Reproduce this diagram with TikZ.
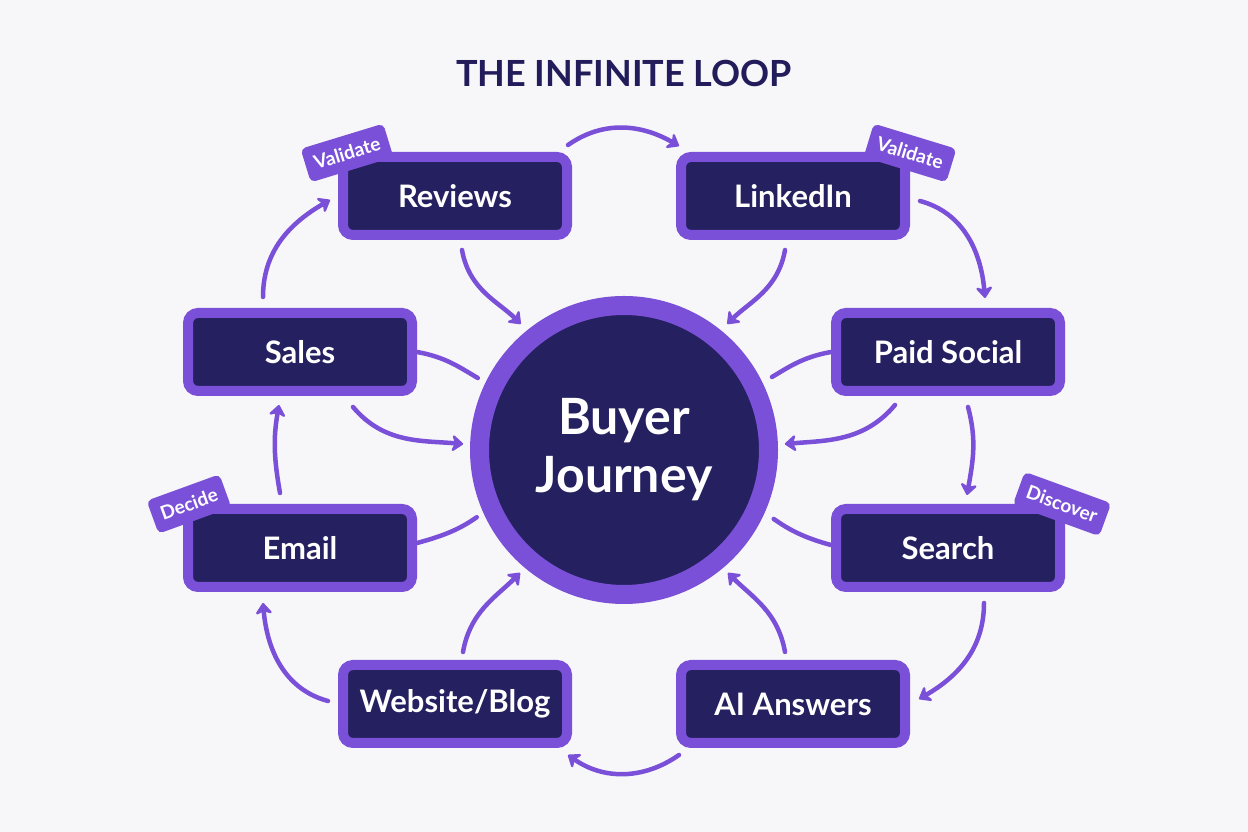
\documentclass[tikz,border=0pt]{standalone}
\usepackage{fontspec}
\setmainfont{Lato}
\usepackage{tikz}
\usetikzlibrary{arrows.meta,calc}
\definecolor{loopbg}{HTML}{F7F6F9}
\definecolor{loopviolet}{HTML}{7A50D9}
\definecolor{loopnavy}{HTML}{25205F}
\definecolor{looptitle}{HTML}{221C5A}
\tikzset{
    %Define standard arrow tip
    >={Stealth[length=13pt,width=20pt,inset=4pt,round]},
    %Define style for boxes
    station/.style={
           rectangle,
           rounded corners=10pt,
           draw=loopviolet, line width=10pt,
           fill=loopnavy,
           minimum width=224pt,
           minimum height=78pt,
           text=white,
           font=\fontsize{31}{36}\selectfont\bfseries,
           text centered},
    hub/.style={
           circle,
           draw=loopviolet, line width=19pt,
           fill=loopnavy,
           minimum size=289pt,
           text=white,
           align=center,
           font=\fontsize{50}{58}\selectfont\bfseries},
    tagbox/.style={
           rectangle,
           rounded corners=5pt,
           fill=loopviolet,
           text=white,
           minimum height=35pt,
           inner xsep=9pt,
           font=\fontsize{19}{22}\selectfont\bfseries},
    % Define arrow style
    flow/.style={
           ->,
           draw=loopviolet,
           line width=4.5pt,
           line cap=round},
    spoke/.style={
           draw=loopviolet,
           line width=4.5pt,
           line cap=round}
}
\begin{document}
\begin{tikzpicture}[x=1pt,y=1pt]
\fill[loopbg] (0,0) rectangle (1248,832);
\useasboundingbox (0,0) rectangle (1248,832);
\node[text=looptitle, font=\fontsize{36}{40}\selectfont\bfseries] (title) at (624,759) {THE INFINITE LOOP};
 %nodes
\node[hub] (hub) at (624,382) {Buyer\\Journey};
\node[station] (rev) at (455,636) {Reviews};
\node[station] (lnk) at (793,636) {LinkedIn};
\node[station] (sal) at (300,480) {Sales};
\node[station] (pso) at (948,480) {Paid Social};
\node[station] (eml) at (300,284) {Email};
\node[station] (sea) at (948,284) {Search};
\node[station] (web) at (455,128) {Website/Blog};
\node[station] (ais) at (793,128) {AI Answers};
 %stage tags
\node[tagbox, rotate=17] (tagrev) at (347,679) {Validate};
\node[tagbox, rotate=-17] (taglnk) at (910,679) {Validate};
\node[tagbox, rotate=20] (tageml) at (189,328) {Decide};
\node[tagbox, rotate=-20] (tagsea) at (1062,328) {Discover};
 %outer loop
\path
    ($(rev.north east)+(-4,7)$) edge[flow, out=35, in=150] ($(lnk.north west)+(3,6)$)
    ($(lnk.east)+(10,-5)$) edge[flow, out=-15, in=95] ($(pso.north)+(37,10)$)
    ($(pso.south)+(20,-11)$) edge[flow, out=-75, in=80] ($(sea.north)+(19,9)$)
    ($(sea.south)+(36,-11)$) edge[flow, out=-90, in=30] ($(ais.east)+(9,5)$)
    ($(ais.south west)+(3,-7)$) edge[flow, out=-145, in=-35] ($(web.south east)+(-4,-7)$)
    ($(web.west)+(-10,3)$) edge[flow, out=165, in=-85] ($(eml.south)+(-37,-11)$)
    ($(eml.north)+(-20,11)$) edge[flow, out=100, in=-100] ($(sal.south)+(-21,-9)$)
    ($(sal.north)+(-37,11)$) edge[flow, out=90, in=210] ($(rev.west)+(-8,-4)$);
 %spokes into the hub
\path
    ($(rev.south)+(7,-10)$) edge[flow, out=-80, in=135, shorten >=9pt] (hub.129)
    ($(lnk.south)+(-8,-10)$) edge[flow, out=-100, in=45, shorten >=9pt] (hub.51)
    ($(sal.south)+(53,-11)$) edge[flow, out=-50, in=175, shorten >=7pt] (hub.178)
    ($(pso.south)+(-53,-9)$) edge[flow, out=-130, in=5, shorten >=7pt] (hub.2)
    ($(web.north)+(8,8)$) edge[flow, out=80, in=-135, shorten >=7pt] (hub.230)
    ($(ais.north)+(-8,8)$) edge[flow, out=100, in=-45, shorten >=7pt] (hub.310)
    (sal.east) edge[spoke, out=-10, in=150, shorten >=9pt] (hub.154)
    (pso.west) edge[spoke, out=190, in=30, shorten >=11pt] (hub.26)
    ($(eml.east)+(0,5)$) edge[spoke, out=15, in=-145, shorten >=8pt] (hub.204)
    ($(sea.west)+(0,3)$) edge[spoke, out=165, in=-35, shorten >=11pt] (hub.336);
\end{tikzpicture}
\end{document}
